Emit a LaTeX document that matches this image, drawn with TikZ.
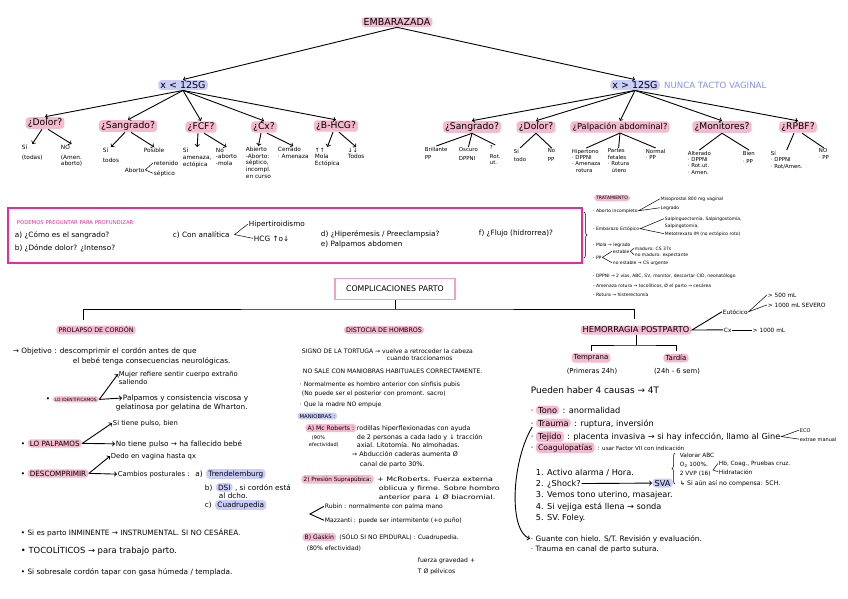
\documentclass[tikz,border=0pt]{standalone}
\usepackage{fontspec}
\setmainfont{DejaVu Sans}
\newfontfamily\wfont[FakeStretch=1.3]{DejaVu Sans}
\usepackage{tikz}
\usetikzlibrary{arrows,positioning,decorations.pathreplacing}

\definecolor{hlpink}{RGB}{245,185,208}
\definecolor{hllav}{RGB}{200,205,250}
\definecolor{boxmag}{RGB}{228,45,150}
\definecolor{boxpink}{RGB}{240,160,205}
\definecolor{lavtxt}{RGB}{135,145,235}

\newcommand{\fA}{\fontsize{4.5}{5.4}\selectfont}
\newcommand{\fB}{\fontsize{5.8}{6.8}\selectfont}
\newcommand{\fH}{\fontsize{5.4}{6.4}\selectfont}
\newcommand{\fC}{\fontsize{6.1}{7}\selectfont}
\newcommand{\fR}{\fontsize{6.4}{7.5}\selectfont}
\newcommand{\fW}{\wfont\fontsize{6.1}{7.5}\selectfont}
\newcommand{\fD}{\fontsize{7.3}{8.5}\selectfont}
\newcommand{\fE}{\fontsize{8.2}{9.5}\selectfont}
\newcommand{\fF}{\fontsize{9.2}{11}\selectfont}
\newcommand{\fG}{\fontsize{9.5}{11}\selectfont}

\begin{document}
\begin{tikzpicture}[x=1pt, y=-1pt, line width=0.9pt, node distance=2pt,
  every node/.style={inner sep=0.5pt, align=left},
  hl/.style={fill=hlpink, rounded corners=3.5pt, inner xsep=2.2pt, inner ysep=1.4pt},
  hlv/.style={fill=hllav, rounded corners=3.5pt, inner xsep=2.2pt, inner ysep=1.4pt},
  ln/.style={anchor=base west},
  sub/.style={anchor=north west, font=\fB},
  subr/.style={anchor=north west, font=\fH},
  thin/.style={line width=0.5pt}]
\useasboundingbox (0,0) rectangle (848,599);
\fill[white] (0,0) rectangle (848,599);

% embarazada
\node[hl, font=\fG] (emb) at (397,22) {EMBARAZADA};
\node[hlv, font=\fG] (men) at (183,85) {x < 12SG};
\node[hlv, font=\fG] (may) at (635,85) {x > 12SG};
\node[font=\fontsize{8.6}{10}\selectfont, text=lavtxt, right=3pt of may] (nunca) {NUNCA TACTO VAGINAL};
\draw[->] (emb.south) -- (men.north);
\draw[->] (emb.south) -- (may.north);

% x < 12SG
\node[hl, font=\fF] (dolA) at (45,123) {¿Dolor?};
\node[hl, font=\fF] (sanA) at (128,126) {¿Sangrado?};
\node[hl, font=\fF] (fcf) at (201,127) {¿FCF?};
\node[hl, font=\fF] (cx) at (264,127) {¿Cx?};
\node[hl, font=\fF] (bhcg) at (336,126) {¿B-HCG?};
\draw[->] (men.south) -- (dolA.north);
\draw[->] (men.south) -- (sanA.north);
\draw[->] (men.south) -- (fcf.north);
\draw[->] (men.south) -- (cx.north);
\draw[->] (men.south) -- (bhcg.north);

\node[sub] (siA) at (21,144) {Sí\\[3pt](todas)};
\node[sub] (noA) at (60,144) {NO\\[3pt](Amen.\\aborto)};
\node[sub] (siS) at (102,147) {Sí\\[3pt]todos};
\node[sub] (posS) at (143,147) {Posible};
\node[ln, font=\fB] (abS) at (124,172) {Aborto};
\node[ln, font=\fB] (retS) at (153,165) {retenido};
\node[ln, font=\fB] (sepS) at (153,175) {séptico};
\node[sub] (siF) at (182,147) {Sí\\amenaza,\\ectópica};
\node[sub] (noF) at (215,147) {No\\-aborto\\-mola};
\node[sub] (abC) at (245,146) {Abierto\\-Aborto:\\séptico,\\incompl.\\en curso};
\node[sub] (ceC) at (277,146) {Cerrado\\· Amenaza};
\node[sub] (upB) at (314,147) {↑↑\\Mola\\Ectópica};
\node[sub] (dnB) at (347,147) {↓↓\\Todos};
\draw[->] ([xshift=-3pt]dolA.south) -- (siA.north);
\draw[->] ([xshift=3pt]dolA.south) -- (noA.north);
\draw[->] ([xshift=-3pt]sanA.south) -- (siS.north);
\draw[->] ([xshift=3pt]sanA.south) -- (posS.north);
\draw[->] ([xshift=-3pt]fcf.south) -- (siF.north);
\draw[->] ([xshift=3pt]fcf.south) -- (noF.north);
\draw[->] ([xshift=-3pt]cx.south) -- (abC.north);
\draw[->] ([xshift=3pt]cx.south) -- (ceC.north);
\draw[->] ([xshift=-3pt]bhcg.south) -- (upB.north);
\draw[->] ([xshift=3pt]bhcg.south) -- (dnB.north);
\draw[thin] (retS.west) -- (abS.east) -- (sepS.west);

% x > 12SG
\node[hl, font=\fF] (sanB) at (472,127) {¿Sangrado?};
\node[hl, font=\fF] (dolB) at (536,127) {¿Dolor?};
\node[hl, font=\fontsize{8.3}{10}\selectfont] (palp) at (620,127) {¿Palpación abdominal?};
\node[hl, font=\fF] (moni) at (722,127) {¿Monitores?};
\node[hl, font=\fF] (rpbf) at (798,127) {¿RPBF?};
\draw[->] (may.south) -- (sanB.north);
\draw[->] (may.south) -- (dolB.north);
\draw[->] (may.south) -- (palp.north);
\draw[->] (may.south) -- (moni.north);
\draw[->] (may.south) -- (rpbf.north);

\node[subr] (brB) at (424,146) {Brillante\\[2pt]PP};
\node[subr] (osB) at (458,147) {Oscuro\\[2pt]DPPNI};
\node[subr] (qB) at (489,145) {?\\[2pt]Rot.\\ut.};
\node[subr] (siD) at (513,148) {Sí\\[2pt]todo};
\node[subr] (noD) at (547,148) {No\\[2pt]PP};
\node[subr] (hiP) at (571,148) {Hipertono\\· DPPNI\\· Amenaza\\\hspace*{4pt}rotura};
\node[subr] (paP) at (607,148) {Partes\\fetales\\· Rotura\\\hspace*{4pt}útero};
\node[subr] (noP) at (645,148) {Normal\\· PP};
\node[subr] (alM) at (687,150) {Alterado\\· DPPNI\\· Rot.ut.\\· Amen.};
\node[subr] (biM) at (742,150) {Bien\\[2pt]· PP};
\node[subr] (siR) at (770,150) {Sí\\· DPPNI\\· Rot/Amen.};
\node[subr] (noR) at (818,148) {NO\\· PP};
\draw (sanB.south) -- (brB.north);
\draw (sanB.south) -- (osB.north);
\draw (sanB.south) -- (qB.north);
\draw (dolB.south) -- (siD.north);
\draw (dolB.south) -- (noD.north);
\draw (palp.south) -- (hiP.north);
\draw (palp.south) -- (paP.north);
\draw (palp.south) -- (noP.north);
\draw (moni.south) -- (alM.north);
\draw (moni.south) -- (biM.north);
\draw ([xshift=-4pt]rpbf.south) -- (siR.north);
\draw ([xshift=4pt]rpbf.south) -- (noR.north);

% preguntas
\draw[boxmag, line width=1.3pt] (8,208) rectangle (582,263);
\node[ln, font=\fontsize{5.3}{6}\selectfont, text=boxmag] (preg) at (16,224) {PODEMOS PREGUNTAR PARA PROFUNDIZAR:};
\node[ln, font=\fD] (qa) at (14,237) {a) ¿Cómo es el sangrado?};
\node[ln, font=\fD] (qb) at (14,250) {b) ¿Dónde dolor? ¿Intenso?};
\node[ln, font=\fD] (qc) at (172,237) {c) Con analítica};
\node[ln, font=\fD] (hip) at (248,226) {Hipertiroidismo};
\node[ln, font=\fD] (hcg) at (253,241) {HCG ↑o↓};
\draw[thin] (hip.west) -- ([xshift=4pt]qc.east) -- (hcg.west);
\node[ln, font=\fD] (qd) at (320,236) {d) ¿Hiperémesis / Preeclampsia?};
\node[ln, font=\fD] (qe) at (320,246) {e) Palpamos abdomen};
\node[ln, font=\fD] (qf) at (478,235) {f) ¿Flujo (hidrorrea)?};

% tratamiento
\draw[thin, decorate, decoration={brace, amplitude=3pt}] (584,212) -- (584,258);
\node[hl, font=\fA] (trat) at (612,198) {TRATAMIENTO};
\node[ln, font=\fA] (abi) at (592,212) {- Aborto incompleto};
\node[ln, font=\fA] (miso) at (660,200) {Misoprostol 800 mg vaginal};
\node[ln, font=\fA] (legr) at (660,209) {Legrado};
\draw[thin] (miso.west) -- (abi.east) -- (legr.west);
\node[ln, font=\fA] (ecto) at (592,230) {- Embarazo Ectópico};
\node[ln, font=\fA] (salp) at (664,220) {Salpinguectomía, Salpingostomía,};
\node[ln, font=\fA] (salp2) at (664,227) {Salpingotomía,};
\node[ln, font=\fA] (metx) at (664,235) {Metotrexato IM (no ectópico roto)};
\draw[thin] (salp.west) -- (ecto.east) -- (metx.west);
\node[ln, font=\fA] (mola) at (592,246) {- Mola → legrado};
\node[ln, font=\fA] (ppv) at (592,259) {- PP};
\node[ln, font=\fA] (est) at (612,253) {estable};
\node[ln, font=\fA] (mad) at (634,250) {maduro: CS 37s};
\node[ln, font=\fA] (nmad) at (634,256) {no maduro: expectante};
\node[ln, font=\fA] (nest) at (612,264) {no estable → CS urgente};
\draw[thin] (est.west) -- (ppv.east) -- (nest.west);
\draw[thin] (mad.west) -- (est.east) -- (nmad.west);
\node[ln, font=\fA] (dppni) at (592,277) {- DPPNI → 2 vías, ABC, SV, monitor, descartar CID, neonatólogo};
\node[ln, font=\fA] (amro) at (592,287) {- Amenaza rotura → tocolíticos, Ø el parto → cesárea};
\node[ln, font=\fA] (rotu) at (592,296) {- Rotura → histerectomía};

% complicaciones parto
\node[draw=boxpink, line width=1.2pt, fill=white, font=\fontsize{7.8}{9}\selectfont, minimum width=120pt, minimum height=21pt] (comp) at (395,289) {COMPLICACIONES PARTO};
\coordinate (bar) at (395,309);
\coordinate (prL) at (83,320);
\coordinate (hmR) at (634,319);
\draw (comp.south) -- (bar);
\draw (prL) |- (bar) -| (hmR);

\node[hl, font=\fontsize{6.3}{7}\selectfont] (pro) at (96,330) {PROLAPSO DE CORDÓN};
\node[hl, font=\fontsize{6.3}{7}\selectfont] (dis) at (384,330) {DISTOCIA DE HOMBROS};
\node[hl, font=\fontsize{8.2}{9}\selectfont] (hem) at (636,330) {HEMORRAGIA POSTPARTO};

% prolapso
\node[ln, font=\fD] (obj) at (12,353) {→ Objetivo : descomprimir el cordón antes de que};
\node[ln, font=\fD] (obj2) at (72,363) {el bebé tenga consecuencias neurológicas.};
\node[ln, font=\fD] (b1) at (45,401) {•};
\node[hl, font=\fontsize{4.4}{5}\selectfont, base right=1pt of b1] (ident) {LO IDENTIFICAMOS};
\node[ln, font=\fontsize{6.8}{8}\selectfont] (muj) at (118,376) {Mujer refiere sentir cuerpo extraño};
\node[ln, font=\fontsize{6.8}{8}\selectfont] (muj2) at (118,384) {saliendo};
\node[ln, font=\fD] (pal) at (122,400) {Palpamos y consistencia viscosa y};
\node[ln, font=\fD] (pal2) at (115,409) {gelatinosa por gelatina de Wharton.};
\draw[->] (ident.east) -- (muj.west);
\draw[->] (ident.east) -- (pal.west);

\node[ln, font=\fD] (b2) at (20,446) {•};
\node[hl, font=\fontsize{7.2}{8}\selectfont, base right=1pt of b2] (palpa) {LO PALPAMOS};
\node[ln, font=\fontsize{6.8}{8}\selectfont] (pul) at (112,425) {Si tiene pulso, bien};
\node[ln, font=\fD] (npul) at (115,446) {No tiene pulso → ha fallecido bebé};
\draw[->] (palpa.east) -- (pul.west);
\draw[->] (palpa.east) -- (npul.west);

\node[ln, font=\fD] (b3) at (20,476) {•};
\node[hl, font=\fontsize{7.2}{8}\selectfont, base right=1pt of b3] (desc) {DESCOMPRIMIR};
\node[ln, font=\fontsize{6.8}{8}\selectfont] (dedo) at (110,458) {Dedo en vagina hasta qx};
\node[ln, font=\fontsize{6.8}{8}\selectfont] (camb) at (117,476) {Cambios posturales :};
\node[ln, font=\fD, base right=4pt of camb] (pa) {a)};
\node[hlv, font=\fD, base right=2pt of pa] (tren) {Trendelemburg};
\node[ln, font=\fD] (pb) at (204,490) {b)};
\node[hlv, font=\fD, base right=2pt of pb] (dsi) {DSI};
\node[ln, font=\fD, base right=1pt of dsi] (dsi2) {, si cordón está};
\node[ln, font=\fD] (dsi3) at (218,498) {al dcho.};
\node[ln, font=\fD] (pc) at (204,507) {c)};
\node[hlv, font=\fD, base right=2pt of pc] (cuad) {Cuadrupedia};
\draw[->] (desc.east) -- (dedo.west);
\draw[->] (desc.east) -- (camb.west);

\node[ln, font=\fD] (inm) at (20,535) {• Si es parto INMINENTE → INSTRUMENTAL. SI NO CESÁREA.};
\node[ln, font=\fontsize{8.4}{10}\selectfont] (toco) at (20,553) {• TOCOLÍTICOS → para trabajo parto.};
\node[ln, font=\fD] (sobr) at (20,574) {• Si sobresale cordón tapar con gasa húmeda / templada.};

% distocia
\node[ln, font=\fC] (tort) at (301,353) {SIGNO DE LA TORTUGA → vuelve a retroceder la cabeza};
\node[ln, font=\fC] (tort2) at (386,360) {cuando traccionamos};
\node[ln, font=\fC] (nosale) at (302,373) {NO SALE CON MANIOBRAS HABITUALES CORRECTAMENTE.};
\node[ln, font=\fC] (norm) at (299,386) {· Normalmente es hombro anterior con sínfisis pubis};
\node[ln, font=\fC] (norm2) at (301,395) {(No puede ser el posterior con promont. sacro)};
\node[ln, font=\fC] (emp) at (299,406) {· Que la madre NO empuje};
\node[hlv, ln, font=\fontsize{5.3}{6}\selectfont] (mani) at (297,418) {MANIOBRAS :};
\node[hl, ln, font=\fC] (mcr) at (305,430) {A) Mc Roberts :};
\node[ln, font=\fR] (rod) at (356,430) {rodillas hiperflexionadas con ayuda};
\node[ln, font=\fR] (rod2) at (356,439) {de 2 personas a cada lado y ↓ tracción};
\node[ln, font=\fR] (rod3) at (356,447) {axial. Litotomía. No almohadas.};
\node[ln, font=\fR] (rod4) at (351,456) {→ Abducción caderas aumenta Ø};
\node[ln, font=\fR] (rod5) at (359,466) {canal de parto 30\%.};
\node[ln, font=\fontsize{5}{6}\selectfont] (ef1) at (311,439) {(90\%};
\node[ln, font=\fontsize{5}{6}\selectfont] (ef2) at (308,446) {efectividad)};
\node[hl, ln, font=\fontsize{5.7}{7}\selectfont] (supr) at (301,481) {2) Presión Suprapúbica:};
\node[ln, font=\fW, base right=2pt of supr] (sup1) {+ McRoberts. Fuerza externa};
\node[ln, font=\fW] (sup2) at (378,490) {oblicua y firme. Sobre hombro};
\node[ln, font=\fW] (sup3) at (378,499) {anterior para ↓ Ø biacromial.};
\node[ln, font=\fC] (rub) at (324,508) {Rubin : normalmente con palma mano};
\node[ln, font=\fC] (wood) at (324,522) {Mazzanti : puede ser intermitente (+o puño)};
\coordinate (rw) at (310,514);
\draw (rub.west) -- (rw) -- (wood.west);
\node[hl, ln, font=\fC] (gask) at (302,539) {B) Gaskin};
\node[ln, font=\fC, base right=2pt of gask] (gask2) {(SÓLO SI NO EPIDURAL) : Cuadrupedia.};
\node[ln, font=\fC] (ef3) at (306,550) {(80\% efectividad)};
\node[ln, font=\fC] (fg) at (417,562) {fuerza gravedad +};
\node[ln, font=\fC] (fg2) at (417,573) {T Ø pélvicos};

% hemorragia
\node[ln, font=\fontsize{5.8}{7}\selectfont] (eut) at (722,314) {Eutócico};
\node[ln, font=\fontsize{5.8}{7}\selectfont] (g500) at (767,297) {> 500 mL};
\node[ln, font=\fontsize{5.8}{7}\selectfont] (g1000) at (767,307) {> 1000 mL SEVERO};
\draw[thin] (g500.west) -- (eut.east) -- (g1000.west);
\node[ln, font=\fontsize{5.8}{7}\selectfont] (cxh) at (723,332) {Cx};
\node[ln, font=\fontsize{5.8}{7}\selectfont] (g1000b) at (752,332) {> 1000 mL};
\draw[thin] (cxh) -- (g1000b);
\draw (eut.west) -- (hem.east) -- (cxh.west);

\node[hl, font=\fontsize{7}{8}\selectfont] (temp) at (591,358) {Temprana};
\node[hl, font=\fontsize{7}{8}\selectfont] (tard) at (676,358) {Tardía};
\node[font=\fontsize{6.8}{8}\selectfont] (temp2) at (592,371) {(Primeras 24h)};
\node[font=\fontsize{6.8}{8}\selectfont] (tard2) at (677,371) {(24h - 6 sem)};
\coordinate (hb) at (636,345);
\draw (hem.south) -- (hb);
\draw ([yshift=2pt]temp.north) |- (hb) -| ([yshift=2pt]tard.north);

\node[ln, font=\fontsize{8.9}{10}\selectfont] (pued) at (530,393) {Pueden haber 4 causas → 4T};
\node[ln, font=\fE] (tono0) at (530,413) {·};
\node[hl, font=\fE, base right=1pt of tono0] (tono) {Tono};
\node[ln, font=\fE, base right=2pt of tono] (tono1) {: anormalidad};
\node[ln, font=\fE] (trau0) at (530,426) {·};
\node[hl, font=\fE, base right=1pt of trau0] (trau) {Trauma};
\node[ln, font=\fE, base right=2pt of trau] (trau1) {: ruptura, inversión};
\node[ln, font=\fE] (teji0) at (530,439) {·};
\node[hl, font=\fE, base right=1pt of teji0] (teji) {Tejido};
\node[ln, font=\fE, base right=2pt of teji] (teji1) {: placenta invasiva → si hay infección, llamo al Gine};
\node[ln, font=\fontsize{5}{6}\selectfont] (eco) at (799,432) {ECO};
\node[ln, font=\fontsize{5}{6}\selectfont] (extr) at (799,441) {extrae manual};
\draw[thin] (eco.west) -- (teji1.east) -- (extr.west);
\node[ln, font=\fE] (coag0) at (530,450) {·};
\node[hl, font=\fontsize{7.6}{9}\selectfont, base right=1pt of coag0] (coag) {Coagulopatías};
\node[ln, font=\fontsize{5.6}{7}\selectfont, base right=2pt of coag] (coag1) {: usar Factor VII con indicación};

\node[ln, font=\fE] (l1) at (535,475) {1. Activo alarma / Hora.};
\node[ln, font=\fE] (l2) at (535,486) {2. ¿Shock?};
\node[hlv, ln, font=\fE] (sva) at (652,486) {SVA};
\draw[->] (l2) -- (sva);
\node[ln, font=\fE] (l3) at (535,497) {3. Vemos tono uterino, masajear.};
\node[ln, font=\fE] (l4) at (535,509) {4. Si vejiga está llena → sonda};
\node[ln, font=\fE] (l5) at (535,520) {5. SV. Foley.};
\draw[thin, decorate, decoration={brace, amplitude=3pt}] (675,484) -- (675,453);
\node[ln, font=\fontsize{5.8}{6.5}\selectfont] (abc) at (679,457) {Valorar ABC};
\node[ln, font=\fontsize{5.8}{6.5}\selectfont] (o2) at (679,466) {O\textsubscript{2} 100\%.};
\node[ln, font=\fontsize{5.8}{6.5}\selectfont] (vvp) at (679,475) {2 VVP (16)};
\node[ln, font=\fontsize{5.8}{6.5}\selectfont] (pcru) at (718,465) {Hb, Coag., Pruebas cruz.};
\node[ln, font=\fontsize{5.8}{6.5}\selectfont] (hidr) at (718,474) {Hidratación};
\coordinate (ov) at (713,470);
\draw[thin] (pcru.west) -- (ov) -- (hidr.west);
\node[ln, font=\fontsize{6.2}{7}\selectfont] (nocomp) at (679,485) {↳ Si aún así no compensa: 5CH.};

\node[ln, font=\fontsize{7.4}{8.5}\selectfont] (gua) at (530,541) {· Guante con hielo. S/T. Revisión y evaluación.};
\node[ln, font=\fontsize{7.4}{8.5}\selectfont] (tcan) at (530,551) {· Trauma en canal de parto sutura.};
\draw[->] (trau0.south) .. controls (512,460) and (508,530) .. (gua.west);
\end{tikzpicture}
\end{document}
